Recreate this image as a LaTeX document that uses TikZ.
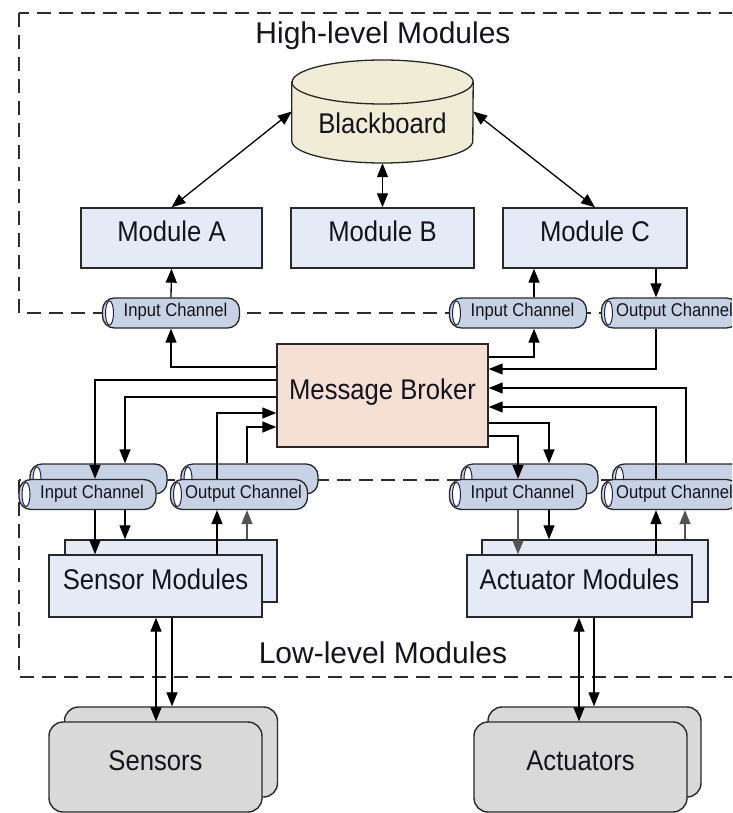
\documentclass[tikz,border=0pt]{standalone}
\usepackage{fontspec}
\setmainfont{Liberation Sans}
\newfontfamily\condfont{Liberation Sans}[FakeStretch=0.9]
\usetikzlibrary{arrows.meta,calc}

\definecolor{modfill}{RGB}{228,235,247}
\definecolor{bbfill}{RGB}{240,236,214}
\definecolor{mbfill}{RGB}{246,224,212}
\definecolor{chfill}{RGB}{199,210,228}
\definecolor{hwfill}{RGB}{217,217,217}
\definecolor{edgec}{RGB}{40,40,40}
\definecolor{capc}{RGB}{30,35,90}
\definecolor{dashc}{RGB}{45,45,45}
\definecolor{txtc}{RGB}{20,20,30}

\tikzset{
  boxbase/.style={draw=edgec, line width=1.4pt, inner sep=0pt, text=txtc,
    text height=0.716em, text depth=0pt},
  boxfont/.style={font=\condfont\fontsize{28.5}{30}\selectfont},
  modbox/.style={boxbase, boxfont, fill=modfill, minimum height=60pt},
  brokerbox/.style={boxbase, boxfont, fill=mbfill},
  hwbox/.style={boxbase, boxfont, fill=hwfill, rounded corners=14pt, minimum width=213pt,
    minimum height=90pt},
  chan/.style={draw=edgec, fill=chfill, line width=1.3pt, rounded corners=12pt,
    minimum width=137pt, minimum height=30pt, inner sep=0pt, text=txtc,
    text height=0.716em, text depth=0pt,
    font=\condfont\fontsize{18.5}{20}\selectfont,
    path picture={\draw[capc, fill=white, line width=1pt]
      ([xshift=7pt]path picture bounding box.west) ellipse [x radius=4pt, y radius=12pt];}},
  arr/.style={draw=black, line width=1.3pt, -{Triangle[length=14pt,width=11pt]}},
  darr/.style={draw=black, line width=1.3pt,
    {Triangle[length=14pt,width=11pt]}-{Triangle[length=14pt,width=11pt]}},
  arrg/.style={arr, draw=gray!65!black},
  region/.style={draw=dashc, line width=1.3pt, dash pattern=on 14pt off 8pt},
  regionlabel/.style={anchor=base, text=txtc, font=\fontsize{30}{32}\selectfont},
}

\begin{document}
\begin{tikzpicture}[x=1pt, y=-1pt]
\clip (0,0) rectangle (732,813);
\useasboundingbox (0,0) rectangle (732,813);
\fill[white] (0,0) rectangle (732,813);

% dashed regions
\draw[region] (19,13) rectangle (780,313);
\draw[region] (19,480) rectangle (780,677);

\node[regionlabel] (hlm) at (383,44) {High-level Modules};
\node[regionlabel] (llm) at (383,663) {Low-level Modules};

% blackboard (cylinder)
\node[inner sep=0pt, minimum width=181pt, minimum height=103pt] (bb) at (382.5,111.5) {};
\path[draw=edgec, fill=bbfill, line width=1.3pt]
  (bb.west |- 0,82) -- (bb.west |- 0,141)
  arc[start angle=180, end angle=360, x radius=90.5pt, y radius=22pt]
  -- (bb.east |- 0,82)
  arc[start angle=0, end angle=180, x radius=90.5pt, y radius=22pt] -- cycle;
\draw[edgec, line width=1.3pt] (bb.west |- 0,82)
  arc[start angle=180, end angle=360, x radius=90.5pt, y radius=22pt];
\node[boxfont, text=txtc, text height=0.716em, text depth=0pt]
  (bbtext) at (382.5,130) {Blackboard};

% high-level modules
\node[modbox, minimum width=181pt] (modA) at (171.5,238) {Module A};
\node[modbox, minimum width=183pt] (modB) at (382.5,238) {Module B};
\node[modbox, minimum width=184pt] (modC) at (595,238) {Module C};

% channels of the high-level modules
\node[chan] (inA) at (171,313) {\hspace*{9pt}Input Channel};
\node[chan] (inC) at (518,313) {\hspace*{9pt}Input Channel};
\node[chan] (outC) at (670,313) {\hspace*{9pt}Output Channel};

% message broker
\node[brokerbox, minimum width=211pt, minimum height=103pt] (mb) at (382.5,395.5) {Message Broker};

% channels of the low-level modules
\node[chan] (inLb) at (98.5,479) {};
\node[chan] (inLf) at (87.5,494.5) {\hspace*{9pt}Input Channel};
\node[chan] (outLb) at (249.5,479) {};
\node[chan] (outLf) at (239,494.5) {\hspace*{9pt}Output Channel};
\node[chan] (inRb) at (529.5,479) {};
\node[chan] (inRf) at (518,494.5) {\hspace*{9pt}Input Channel};
\node[chan] (outRb) at (681,479) {};
\node[chan] (outRf) at (670,494.5) {\hspace*{9pt}Output Channel};

% low-level modules
\node[modbox, minimum width=212pt, minimum height=62pt] (smB) at (171,571) {};
\node[modbox, minimum width=213pt, minimum height=62pt] (smF) at (155.5,586) {Sensor Modules};
\node[modbox, minimum width=226pt, minimum height=62pt] (amB) at (595,571) {};
\node[modbox, minimum width=225pt, minimum height=62pt] (amF) at (579.5,586) {Actuator Modules};

% hardware
\node[hwbox] (snB) at (171,752) {};
\node[hwbox] (snF) at (155.5,767) {Sensors};
\node[hwbox] (acB) at (594.5,752) {};
\node[hwbox] (acF) at (580.5,767) {Actuators};

% blackboard links
\draw[darr] (bb.west) -- (modA.north);
\draw[darr] (bb.south) -- (modB.north);
\draw[darr] (bb.east) -- (modC.north);

% high-level channel links
\draw[arr] (inA.north) -- (modA.south);
\draw[arr] (mb.west |- 0,367) -| (inA.south);
\draw[arr] (534,0 |- inC.north) -- (534,0 |- modC.south);
\draw[arr] (mb.east |- 0,357) -| (534,0 |- inC.south);
\draw[arr] (656,0 |- modC.south) -- (656,0 |- outC.north);
\draw[arr] (656,0 |- outC.south) |- (mb.east |- 0,369);

% broker to low-level channels, left side
\draw[arr] (mb.west |- 0,380) -| (95,0 |- inLf.north);
\draw[arr] (mb.west |- 0,397) -| (125,0 |- inLb.north);
\draw[arr] (217,0 |- outLf.north) |- (mb.west |- 0,413);
\draw[arr] (247,0 |- outLb.north) |- (mb.west |- 0,427);

% broker to low-level channels, right side
\draw[arr] (686,0 |- outRb.north) |- (mb.east |- 0,388);
\draw[arr] (656,0 |- outRf.north) |- (mb.east |- 0,407);
\draw[arr] (mb.east |- 0,423) -| (549,0 |- inRb.north);
\draw[arr] (mb.east |- 0,436) -| (518,0 |- inRf.north);

% channels to low-level modules
\draw[arr] (95,0 |- inLf.south) -- (95,0 |- smF.north);
\draw[arr] (125,0 |- inLf.south) -- (125,0 |- smB.north);
\draw[arr] (217,0 |- smF.north) -- (217,0 |- outLf.south);
\draw[arrg] (247,0 |- smB.north) -- (247,0 |- outLf.south);
\draw[arrg] (518,0 |- inRf.south) -- (518,0 |- amF.north);
\draw[arr] (549,0 |- inRf.south) -- (549,0 |- amB.north);
\draw[arr] (656,0 |- amF.north) -- (656,0 |- outRf.south);
\draw[arrg] (685,0 |- amB.north) -- (685,0 |- outRf.south);

% modules to hardware
\draw[darr] (156,0 |- smF.south) -- (156,0 |- snF.north);
\draw[arr] (172,0 |- smF.south) -- (172,0 |- snB.north);
\draw[darr] (579,0 |- amF.south) -- (579,0 |- acF.north);
\draw[arr] (594,0 |- amF.south) -- (594,0 |- acB.north);
\end{tikzpicture}
\end{document}
